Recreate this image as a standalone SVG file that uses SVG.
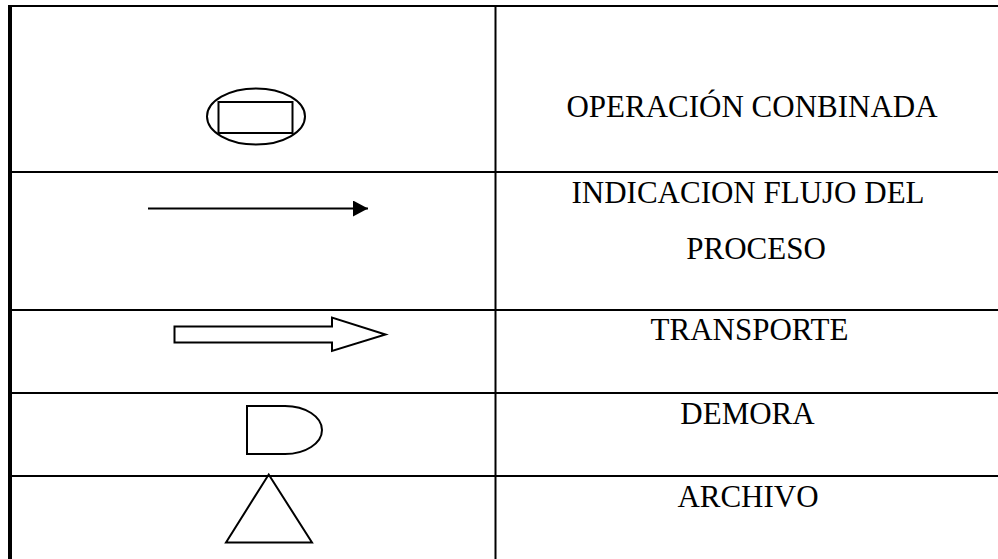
<svg xmlns="http://www.w3.org/2000/svg" width="998" height="559" viewBox="0 0 998 559">
<style>
.grid{stroke:#000;stroke-width:2;fill:none}
.sym{stroke:#000;stroke-width:2;fill:none}
.lbl{font-family:"Liberation Serif","Times New Roman",serif;font-size:31px;fill:#000;text-anchor:middle}
</style>
<defs>
<marker id="ah" markerWidth="16" markerHeight="16" refX="15" refY="8" orient="auto" markerUnits="userSpaceOnUse">
<path d="M0,0 L15,8 L0,16 Z" fill="#000"/>
</marker>
</defs>
<rect width="998" height="559" fill="#fff"/>
<g id="table">
<line class="grid" x1="8" y1="6" x2="998" y2="6"/>
<line x1="10" y1="5" x2="10" y2="559" stroke="#000" stroke-width="4"/>
<line class="grid" x1="495.5" y1="5" x2="495.5" y2="559"/>
<line class="grid" x1="10" y1="172" x2="998" y2="172"/>
<line class="grid" x1="10" y1="310" x2="998" y2="310"/>
<line class="grid" x1="10" y1="393" x2="998" y2="393"/>
<line class="grid" x1="10" y1="476" x2="998" y2="476"/>
</g>
<g id="operacion-combinada">
<ellipse class="sym" cx="256" cy="116.5" rx="49" ry="28"/>
<rect class="sym" x="218.5" y="102" width="74" height="31"/>
<text class="lbl" x="752" y="117">OPERACIÓN CONBINADA</text>
</g>
<g id="connectors">
<line x1="148" y1="208.5" x2="368" y2="208.5" stroke="#000" stroke-width="2" marker-end="url(#ah)"/>
</g>
<g id="flujo">
<text class="lbl" x="748" y="203">INDICACION FLUJO DEL</text>
<text class="lbl" x="756" y="259">PROCESO</text>
</g>
<g id="transporte">
<path class="sym" d="M174.5,326.5 H332 V317.5 L385.5,334.5 L332,351 V342.5 H174.5 Z"/>
<text class="lbl" x="749.5" y="340">TRANSPORTE</text>
</g>
<g id="demora">
<path class="sym" d="M247,406 H285 A37,24 0 0 1 285,454 H247 Z"/>
<text class="lbl" x="747.5" y="424">DEMORA</text>
</g>
<g id="archivo">
<path class="sym" d="M268.7,474.5 L312,542.5 L226,542.5 Z"/>
<text class="lbl" x="748" y="507">ARCHIVO</text>
</g>
</svg>
